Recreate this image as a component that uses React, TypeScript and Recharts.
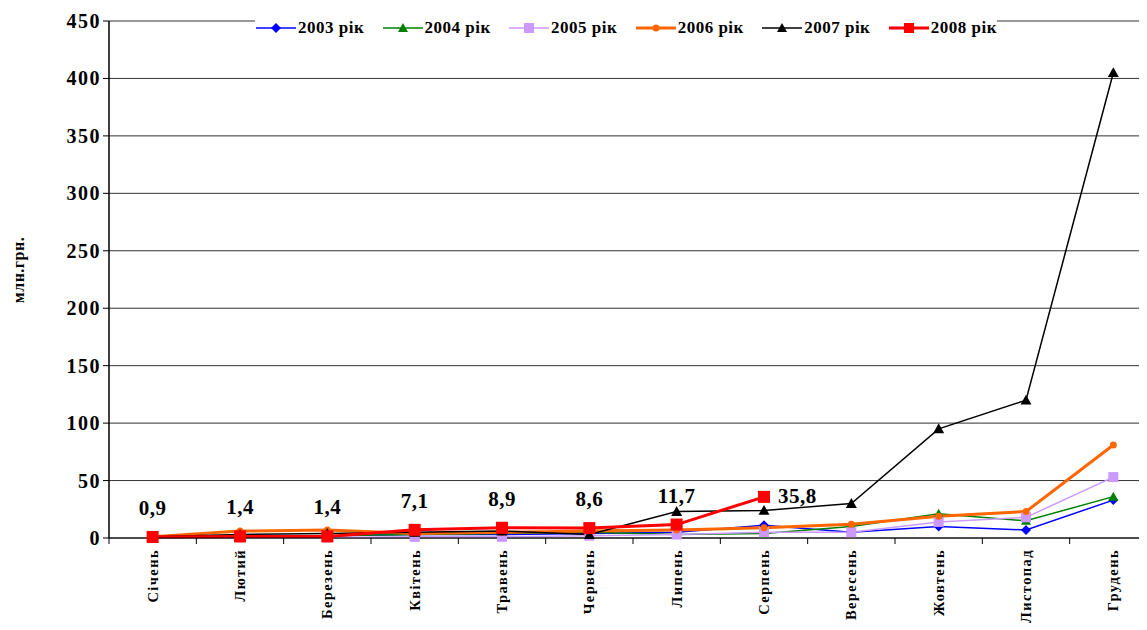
import React from "react";
import { LineChart, Line, XAxis, YAxis, CartesianGrid, LabelList } from "recharts";

const months = ["Січень", "Лютий", "Березень", "Квітень", "Травень", "Червень", "Липень", "Серпень", "Вересень", "Жовтень", "Листопад", "Грудень"];

const y2003 = [1, 2, 2, 3, 3, 4, 5, 11, 5, 10, 7, 33];
const y2004 = [1, 2, 2, 3, 4, 5, 3, 4, 10, 21, 15, 36];
const y2005 = [0.5, 0.5, 0.5, 1, 1, 2, 3, 5, 5, 14, 18, 53];
const y2006 = [1, 6, 7, 4, 5, 6, 7, 9, 12, 19, 23, 81];
const y2007 = [1, 3, 4, 5, 6, 3, 23, 24, 30, 95, 120, 405];
const y2008 = [0.9, 1.4, 1.4, 7.1, 8.9, 8.6, 11.7, 35.8];

const yTicks = [0, 50, 100, 150, 200, 250, 300, 350, 400, 450];

const data = months.map((m, i) => ({
    name: m,
    y2003: y2003[i],
    y2004: y2004[i],
    y2005: y2005[i],
    y2006: y2006[i],
    y2007: y2007[i],
    y2008: i < y2008.length ? y2008[i] : null
}));

const FONT = '"Liberation Serif", "Times New Roman", serif';
const Y_AXIS_W = 101;

// marker shapes
const Marker = ({ kind, cx, cy, color, size }: any) => {
    if (cx == null || cy == null) return null;
    const s = size;
    if (kind === "diamond") {
        return <polygon points={`${cx},${cy - s} ${cx + s},${cy} ${cx},${cy + s} ${cx - s},${cy}`} fill={color} />;
    }
    if (kind === "triangle") {
        return <polygon points={`${cx},${cy - s} ${cx + s},${cy + s * 0.8} ${cx - s},${cy + s * 0.8}`} fill={color} />;
    }
    if (kind === "square") {
        return <rect x={cx - s} y={cy - s} width={s * 2} height={s * 2} fill={color} />;
    }
    return <circle cx={cx} cy={cy} r={s} fill={color} />;
};

const series = [
    { key: "y2003", label: "2003 рік", color: "#0000FF", width: 1.5, kind: "diamond", size: 5 },
    { key: "y2004", label: "2004 рік", color: "#008000", width: 1.5, kind: "triangle", size: 5 },
    { key: "y2005", label: "2005 рік", color: "#CC99FF", width: 1.5, kind: "square", size: 5 },
    { key: "y2006", label: "2006 рік", color: "#FF6600", width: 3, kind: "circle", size: 3.5 },
    { key: "y2007", label: "2007 рік", color: "#000000", width: 1.5, kind: "triangle", size: 5.5 },
    { key: "y2008", label: "2008 рік", color: "#FF0000", width: 3, kind: "square", size: 6 }
];

// month label + tick marks on the category boundaries (Excel style)
const MonthTick = ({ x, y, payload, index }: any) => {
    const i = index ?? 0;
    const half = (x - Y_AXIS_W) / (2 * i + 1);
    const axisY = y - 8;
    const last = i === months.length - 1;
    return (
        <g>
            <line x1={x - half} y1={axisY} x2={x - half} y2={axisY + 6} stroke="#000" strokeWidth={1} />
            {last ? <line x1={x + half} y1={axisY} x2={x + half} y2={axisY + 6} stroke="#000" strokeWidth={1} /> : null}
            <text
                transform={`translate(${x},${y + 3}) rotate(-90)`}
                textAnchor="end"
                dominantBaseline="central"
                style={{ fontFamily: FONT, fontWeight: "bold", fontSize: 14.5, letterSpacing: 1.4 }}
                fill="#000"
            >
                {payload.value}
            </text>
        </g>
    );
};

const ValueTick = ({ x, y, payload }: any) => (
    <text
        x={x}
        y={y}
        textAnchor="end"
        dominantBaseline="central"
        style={{ fontFamily: FONT, fontWeight: "bold", fontSize: 20, letterSpacing: 1.5 }}
        fill="#000"
    >
        {payload.value}
    </text>
);

const RedLabel = (props: any) => {
    const { x, y, width, value, index } = props;
    if (value == null) return null;
    const cx = x + (width || 0) / 2;
    const txt = String(value).replace(".", ",");
    const st = { fontFamily: FONT, fontWeight: "bold" as const, fontSize: 21, letterSpacing: 0.5 };
    if (index === 7) {
        return (
            <text x={cx + 14} y={y + 6} style={st} fill="#000">
                {txt}
            </text>
        );
    }
    return (
        <text x={cx} y={y - 22} textAnchor="middle" style={st} fill="#000">
            {txt}
        </text>
    );
};

const YLabel = () => (
    <text
        transform={`translate(10,262) rotate(-90)`}
        textAnchor="middle"
        dominantBaseline="central"
        style={{ fontFamily: FONT, fontWeight: "bold", fontSize: 16, letterSpacing: 0.5 }}
        fill="#000"
    >
        млн.грн.
    </text>
);

const LegendBox = () => (
    <div
        style={{
            position: "absolute",
            left: 247,
            top: 8,
            width: 742,
            height: 24,
            background: "#fff",
            display: "flex",
            alignItems: "center",
            justifyContent: "space-between",
            fontFamily: FONT,
            fontWeight: "bold",
            fontSize: 17,
            letterSpacing: 0.5
        }}
    >
        {series.map((s) => (
            <div key={s.key} style={{ display: "flex", alignItems: "center" }}>
                <svg width={42} height={14}>
                    <line x1={1} y1={7} x2={41} y2={7} stroke={s.color} strokeWidth={s.width} />
                    <Marker kind={s.kind} cx={21} cy={7} color={s.color} size={Math.min(s.size, 5)} />
                </svg>
                <span style={{ marginLeft: 1 }}>{s.label}</span>
            </div>
        ))}
    </div>
);

const App = () => {
    return (
        <div style={{ position: "relative", width: 1139, height: 622, overflow: "hidden", background: "#fff" }}>
            <LineChart width={1149} height={622} data={data} margin={{ top: 13, right: 0, bottom: 0, left: 0 }}>
                <CartesianGrid vertical={false} stroke="#333" strokeWidth={1} />
                <XAxis
                    dataKey="name"
                    scale="band"
                    interval={0}
                    tickLine={false}
                    tickSize={6}
                    tickMargin={2}
                    axisLine={{ stroke: "#000", strokeWidth: 1 }}
                    tick={<MonthTick />}
                    height={92}
                />
                <YAxis
                    width={Y_AXIS_W}
                    domain={[0, 450]}
                    ticks={yTicks}
                    interval={0}
                    axisLine={{ stroke: "#000", strokeWidth: 1.5 }}
                    tickLine={{ stroke: "#000" }}
                    tickSize={6}
                    tick={<ValueTick />}
                    label={<YLabel />}
                />
                {series.map((s) => (
                    <Line
                        key={s.key}
                        type="linear"
                        dataKey={s.key}
                        stroke={s.color}
                        strokeWidth={s.width}
                        isAnimationActive={false}
                        connectNulls={false}
                        dot={(p: any) => <Marker key={`${s.key}-${p.index}`} kind={s.kind} cx={p.cx} cy={p.cy} color={s.color} size={s.size} />}
                        activeDot={false}
                    >
                        {s.key === "y2008" ? <LabelList dataKey="y2008" content={<RedLabel />} /> : null}
                    </Line>
                ))}
            </LineChart>
            <LegendBox />
        </div>
    );
};

export default App;
